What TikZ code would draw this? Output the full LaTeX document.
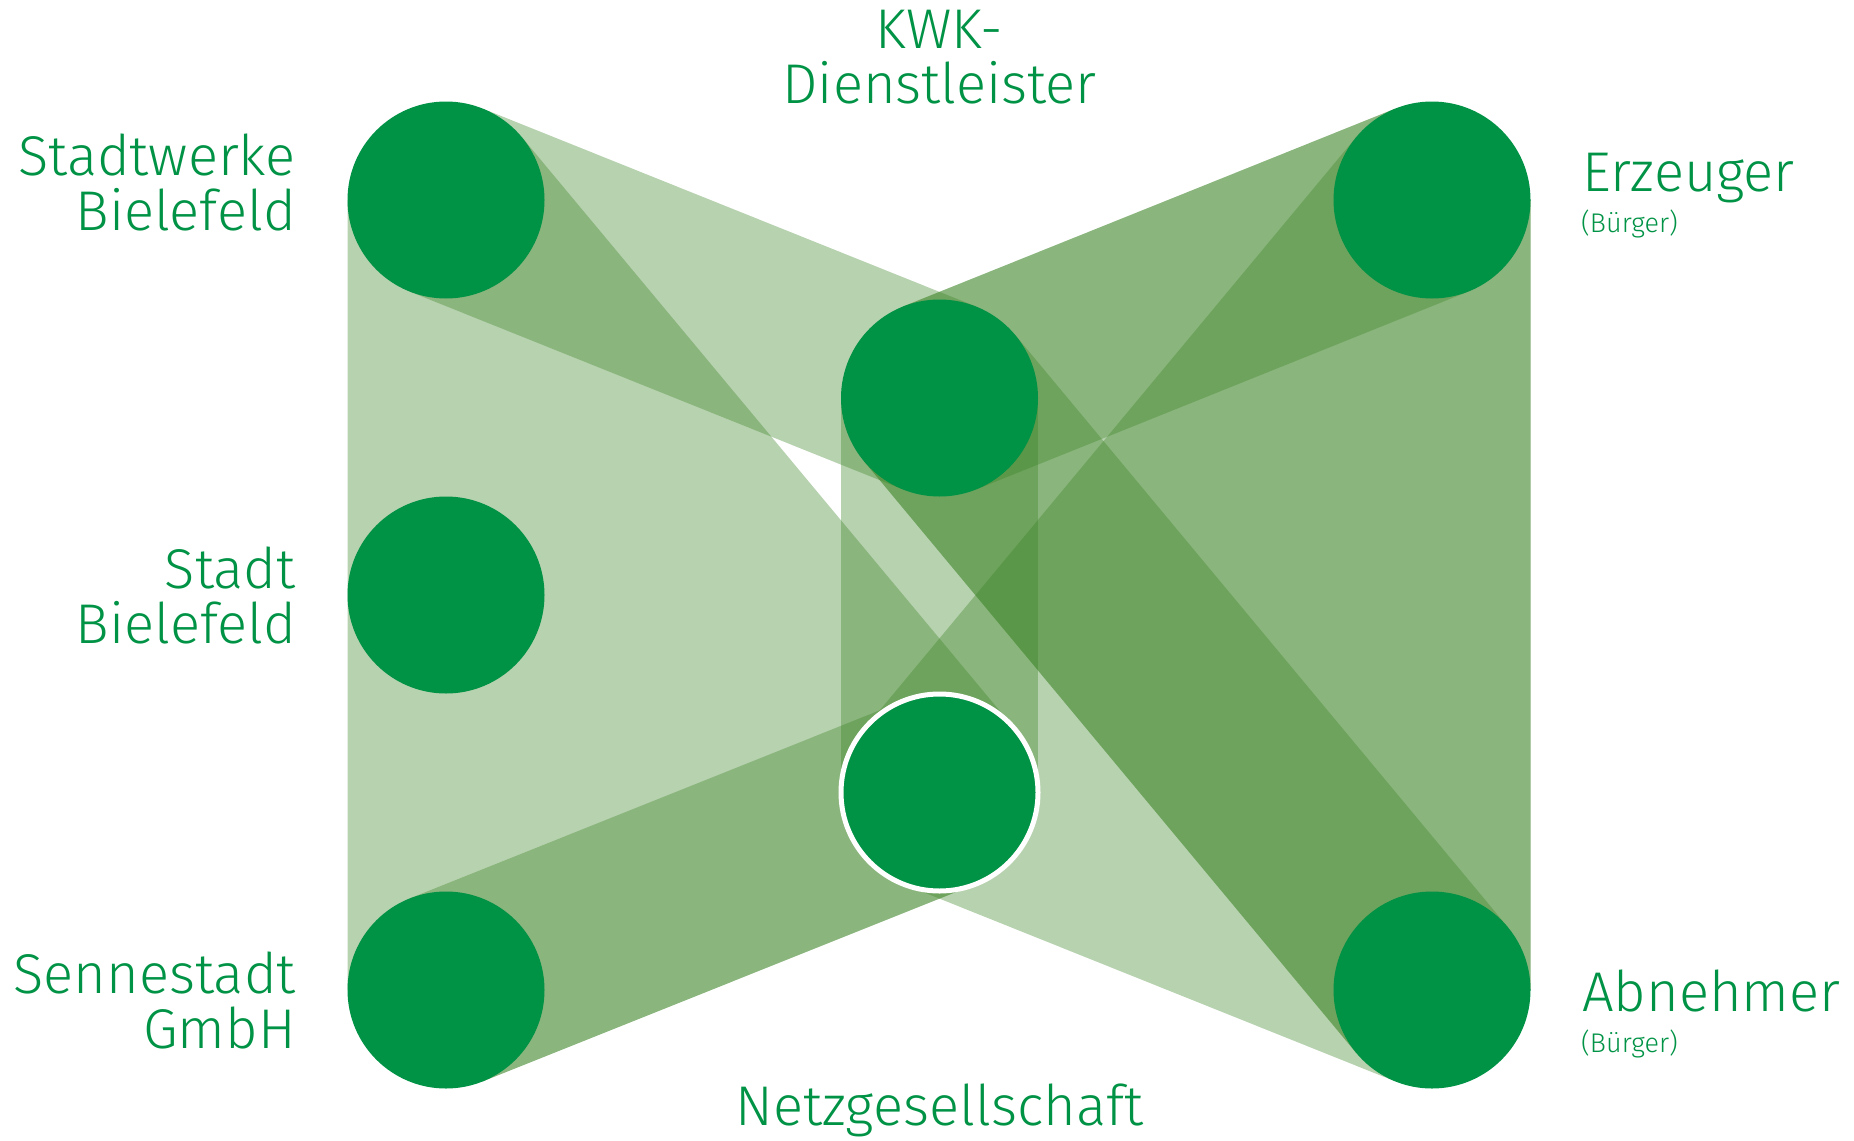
\documentclass[tikz,border=0pt]{standalone}
\usepackage{fontspec}
\setmainfont{Fira Sans Light}
\usetikzlibrary{calc}
\definecolor{hubgreen}{HTML}{009245}
\definecolor{bandgreen}{RGB}{60,132,38}
\pgfdeclarelayer{bands}
\pgfsetlayers{bands,main}
\begin{document}
\begin{tikzpicture}[x=1pt,y=-1pt,line join=round,
	hub/.style={circle,fill=hubgreen,minimum size=197pt,inner sep=0pt},
	band/.style={fill=bandgreen,fill opacity=.37},
	lbl/.style={text=hubgreen,inner sep=0pt,font=\fontsize{56}{55}\selectfont},
	sublbl/.style={text=hubgreen,inner sep=0pt,font=\fontsize{27}{28}\selectfont}]
	\def\r{98.5pt}
	\useasboundingbox (0,0) rectangle (1854,1140);
	% partners
	\node[hub] (swb) at (446,200) {};
	\node[hub] (stadt) at (446,595) {};
	\node[hub] (senn) at (446,990) {};
	\node[hub] (kwk) at (939.5,398) {};
	\node[hub,draw=white,line width=5pt] (netz) at (939.5,792.5) {};
	\node[hub] (erz) at (1432,200) {};
	\node[hub] (abn) at (1432,990) {};
	% bands between two partners, then hulls of three
	\begin{pgfonlayer}{bands}
		\foreach \a/\b in {swb/kwk,senn/netz,kwk/netz,kwk/erz,kwk/abn}
		\fill[band] ($(\a.center)!\r!-90:(\b.center)$) -- ($(\b.center)!\r!90:(\a.center)$)
		-- ($(\b.center)!\r!-90:(\a.center)$) -- ($(\a.center)!\r!90:(\b.center)$) -- cycle;
		\foreach \a/\b/\c in {swb/senn/netz,netz/abn/erz,kwk/abn/erz}
		\fill[band] ($(\a.center)!\r!-90:(\b.center)$) -- ($(\b.center)!\r!90:(\a.center)$)
		-- ($(\b.center)!\r!-90:(\c.center)$) -- ($(\c.center)!\r!90:(\b.center)$)
		-- ($(\c.center)!\r!-90:(\a.center)$) -- ($(\a.center)!\r!90:(\c.center)$) -- cycle;
	\end{pgfonlayer}
	% labels (base = last line)
	\node[lbl,align=right,anchor=base east] (lswb) at (296,230) {Stadtwerke\\Bielefeld};
	\node[lbl,align=right,anchor=base east] (lstadt) at (296,643) {Stadt\\Bielefeld};
	\node[lbl,align=right,anchor=base east] (lsenn) at (296,1048) {Sennestadt\\GmbH};
	\node[lbl,align=center,anchor=base] (lkwk) at (939.5,103) {KWK-\\Dienstleister};
	\node[lbl,anchor=base] (lnetz) at (939.5,1125) {Netzgesellschaft};
	\node[lbl,anchor=base west] (lerz) at (1582,191.5) {Erzeuger};
	\node[sublbl,anchor=base west] (lerzb) at (1581,232) {(Bürger)};
	\node[lbl,anchor=base west] (labn) at (1582,1011.5) {Abnehmer};
	\node[sublbl,anchor=base west] (labnb) at (1581,1052) {(Bürger)};
\end{tikzpicture}
\end{document}
